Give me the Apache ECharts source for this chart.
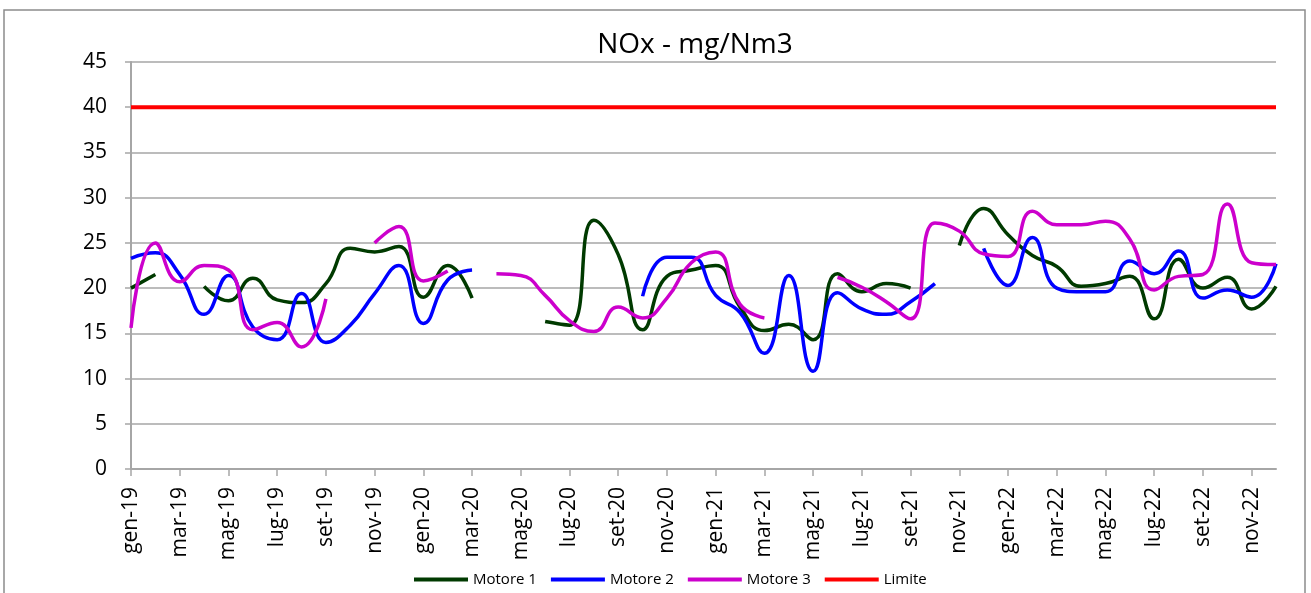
<!DOCTYPE html>
<html>
<head>
<meta charset="utf-8">
<script src="https://cdn.jsdelivr.net/npm/echarts@6/dist/echarts.min.js"></script>
<style>
  html, body { margin: 0; padding: 0; background: #fff; }
  #chart { width: 1311px; height: 593px; }
</style>
</head>
<body>
<div id="chart"></div>
<script>
// mesi gen-19 .. dic-22
var mesi = ["gen", "feb", "mar", "apr", "mag", "giu", "lug", "ago", "set", "ott", "nov", "dic"];
var anni = ["19", "20", "21", "22"];
var categorie = [];
anni.forEach(function (a) {
  mesi.forEach(function (m) { categorie.push(m + "-" + a); });
});

var motore1 = [
  20.0, 21.5, null, 20.2, 18.6, 21.1, 18.7, 18.4, 20.5, 24.4, 24.0, 24.6,
  19.0, 22.5, 18.9, null, null, 16.3, 15.9, 27.5, 23.7, 15.4, 21.3, 22.0,
  22.5, 17.9, 15.3, 16.0, 14.3, 21.6, 19.6, 20.5, 20.0, null, 24.7, 28.8,
  25.9, 23.6, 22.4, 20.2, 20.5, 21.3, 16.6, 23.2, 20.0, 21.2, 17.7, 20.2
];
var motore2 = [
  23.3, 23.9, 21.5, 17.1, 21.4, 15.7, 14.3, 19.4, 14.0, 15.9, 19.4, 22.5,
  16.1, 20.9, 22.0, null, null, null, null, null, null, 19.1, 23.4, 23.4,
  19.2, 17.3, 12.8, 21.4, 10.8, 19.5, 17.7, 17.1, 18.5, 20.5, null, 24.4,
  20.3, 25.6, 20.0, 19.6, 19.6, 23.0, 21.6, 24.1, 18.9, 19.8, 19.0, 22.7
];
var motore3 = [
  15.6, 25.0, 20.7, 22.5, 22.0, 15.4, 16.2, 13.5, 18.8, null, 25.0, 26.8,
  20.8, 21.9, null, 21.6, 21.4, 19.2, 16.4, 15.2, 17.9, 16.7, 18.9, 22.8,
  24.0, 18.2, 16.7, null, null, 21.2, 20.1, 18.5, 16.6, 27.2, 26.3, 23.8,
  23.5, 28.5, 27.0, 27.0, 27.4, 25.4, 19.8, 21.3, 21.5, 29.3, 22.8, 22.6
];
var limite = categorie.map(function () { return 40; });

var font = "'Open Sans', 'Liberation Sans', sans-serif";
var grigio = "#a6a6a6";

var myChart = echarts.init(document.getElementById("chart"));

function linea(nome, dati, colore, spessore) {
  return {
    name: nome,
    type: "line",
    data: dati,
    smooth: 0.5,
    symbol: "none",
    connectNulls: false,
    lineStyle: { color: colore, width: spessore },
    itemStyle: { color: colore }
  };
}

var option = {
  animation: false,
  backgroundColor: "#fff",
  title: {
    text: "NOx - mg/Nm3",
    left: 690,
    textAlign: "center",
    top: 26,
    textStyle: { fontFamily: font, fontSize: 28, fontWeight: "normal", color: "#000" }
  },
  graphic: [{
    type: "rect",
    shape: { x: 4, y: 10, width: 1301, height: 600 },
    style: { fill: null, stroke: "#8c8c8c", lineWidth: 1.5 },
    silent: true
  }],
  legend: {
    left: 409,
    top: 567,
    icon: "rect",
    itemWidth: 54,
    itemHeight: 4,
    itemGap: 14,
    textStyle: { fontFamily: font, fontSize: 15, color: "#000" },
    data: ["Motore 1", "Motore 2", "Motore 3", "Limite"]
  },
  grid: { left: 131, right: 35, top: 62, bottom: 124 },
  xAxis: {
    type: "category",
    boundaryGap: false,
    data: categorie,
    axisLine: { lineStyle: { color: grigio, width: 2 } },
    axisTick: { interval: 1, length: 7, lineStyle: { color: grigio, width: 1.5 } },
    axisLabel: {
      interval: 1,
      rotate: 90,
      margin: 18,
      fontFamily: font,
      fontSize: 21,
      color: "#000"
    }
  },
  yAxis: {
    type: "value",
    min: 0,
    max: 45,
    interval: 5,
    axisLine: { show: true, lineStyle: { color: grigio, width: 2 } },
    axisTick: { show: true, length: 6, lineStyle: { color: grigio, width: 1.5 } },
    splitLine: { lineStyle: { color: grigio, width: 1.5 } },
    axisLabel: { margin: 24, fontFamily: font, fontSize: 21, color: "#000" }
  },
  series: [
    linea("Motore 1", motore1, "#003a00", 3.5),
    linea("Motore 2", motore2, "#0000ff", 3.5),
    linea("Motore 3", motore3, "#cc00cc", 3.5),
    linea("Limite", limite, "#ff0000", 4)
  ]
};

myChart.setOption(option);
</script>
</body>
</html>
